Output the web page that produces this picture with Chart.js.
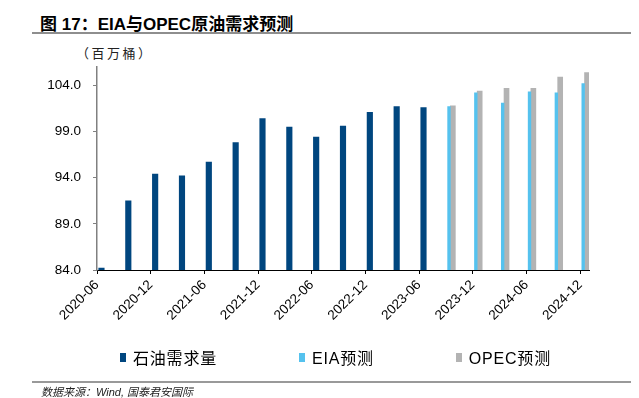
<!DOCTYPE html>
<html>
<head>
<meta charset="utf-8">
<script src="https://cdn.jsdelivr.net/npm/chart.js@4"></script>
<style>
  html, body { margin: 0; padding: 0; background: #fff; }
  body { width: 639px; height: 398px; position: relative; overflow: hidden;
         font-family: "Liberation Sans", "Noto Sans CJK SC", sans-serif; color: #000; }
  #chart { position: absolute; left: 0; top: 0; }
  .title { position: absolute; left: 40px; top: 10px; font-size: 17px; font-weight: bold; white-space: nowrap; }
  .rule { position: absolute; left: 32px; width: 599px; height: 2px; background: #8e8e8e; }
  .unit { position: absolute; left: 76px; top: 43px; font-size: 13px; letter-spacing: 2.5px; color: #222;
          font-family: "Noto Sans CJK SC", sans-serif; }
  #legend { position: absolute; left: 120px; top: 345px; display: flex; gap: 82px; font-size: 16px;
            letter-spacing: 0.8px; white-space: nowrap; }
  #legend .item { display: flex; align-items: center; }
  #legend .box { width: 6px; height: 9px; margin-right: 7px; }
  .source { position: absolute; left: 41px; top: 383px; font-size: 11px; font-style: italic; color: #222; white-space: nowrap; }
</style>
</head>
<body>
<div class="title">图 17：EIA与OPEC原油需求预测</div>
<div class="rule" style="top:32px"></div>
<div class="unit">（百万桶）</div>
<canvas id="chart" width="639" height="398"></canvas>
<div id="legend"></div>
<div class="rule" style="top:381px;height:1.5px;background:#999"></div>
<div class="source">数据来源：Wind, 国泰君安国际</div>

<script>
/* =========================
   DATA
========================= */
const quarters = [
  "2020-06", "2020-09", "2020-12", "2021-03", "2021-06", "2021-09", "2021-12",
  "2022-03", "2022-06", "2022-09", "2022-12", "2023-03", "2023-06",
  "2023-09", "2023-12", "2024-03", "2024-06", "2024-09", "2024-12",
];

// 石油需求量 (actual)
const demand = [
  84.2, 91.5, 94.4, 94.2, 95.7, 97.8, 100.4,
  99.5, 98.4, 99.6, 101.1, 101.7, 101.6,
  null, null, null, null, null, null,
];

// EIA预测
const eiaForecast = [
  null, null, null, null, null, null, null,
  null, null, null, null, null, null,
  101.7, 103.2, 102.1, 103.3, 103.2, 104.2,
];

// OPEC预测
const opecForecast = [
  null, null, null, null, null, null, null,
  null, null, null, null, null, null,
  101.8, 103.4, 103.7, 103.7, 104.9, 105.4,
];

const xTickLabels = [
  "2020-06", "2020-12", "2021-06", "2021-12", "2022-06",
  "2022-12", "2023-06", "2023-12", "2024-06", "2024-12",
];

const yTickValues = [84, 89, 94, 99, 104];

/* =========================
   HELPERS
========================= */
// months since the first tick label (date axis, one slot per month)
function monthIndex(label) {
  const [y, m] = label.split("-").map(Number);
  const [y0, m0] = xTickLabels[0].split("-").map(Number);
  return (y - y0) * 12 + (m - m0);
}

function toPoints(values) {
  return quarters.map((q, i) => ({ x: monthIndex(q) + 0.5, y: values[i] }));
}

const FONT = "'Liberation Sans', Arial, sans-serif";

/* =========================
   CHART
========================= */
const chart = new Chart(document.getElementById("chart"), {
  type: "bar",
  data: {
    datasets: [
      {
        label: "石油需求量",
        data: toPoints(demand),
        backgroundColor: "#00467f",
        barThickness: 5.5,
      },
      {
        label: "EIA预测",
        data: toPoints(eiaForecast),
        backgroundColor: "#55c2ee",
        barThickness: 2.7,
      },
      {
        label: "OPEC预测",
        data: toPoints(opecForecast),
        backgroundColor: "#b3b3b3",
        barThickness: 5,
      },
    ],
  },
  options: {
    responsive: false,
    animation: false,
    skipNull: true,
    layout: { padding: { left: 44, right: 50, top: 67, bottom: 0 } },
    plugins: {
      legend: { display: false },
      tooltip: { enabled: false },
    },
    scales: {
      x: {
        type: "linear",
        position: "bottom",
        offset: false,
        min: monthIndex(xTickLabels[0]),
        max: monthIndex(xTickLabels[xTickLabels.length - 1]) + 1,
        afterBuildTicks: (axis) => {
          axis.ticks = xTickLabels.map((l) => ({ value: monthIndex(l) }));
        },
        afterFit: (axis) => { axis.height = 128; },
        ticks: {
          autoSkip: false,
          minRotation: 45,
          maxRotation: 45,
          padding: 3,
          color: "#000",
          font: { family: FONT, size: 13.5 },
          callback: (v) => xTickLabels.find((l) => monthIndex(l) === v) || "",
        },
        grid: { drawOnChartArea: false, offset: false, tickLength: 4, color: "#000" },
        border: { color: "#000", width: 1 },
      },
      y: {
        min: 84,
        max: 106,
        afterBuildTicks: (axis) => {
          axis.ticks = yTickValues.map((v) => ({ value: v }));
        },
        afterFit: (axis) => { axis.width = 53; },
        ticks: {
          padding: 12,
          color: "#000",
          font: { family: FONT, size: 13.5 },
          callback: (v) => Number(v).toFixed(1),
        },
        grid: { drawOnChartArea: false, tickLength: 4, color: "#808080" },
        border: { color: "#808080", width: 1.5 },
      },
    },
  },
});

/* =========================
   LEGEND (built from the chart's datasets)
========================= */
const legendEl = document.getElementById("legend");
chart.data.datasets.forEach((ds) => {
  const item = document.createElement("div");
  item.className = "item";
  const box = document.createElement("span");
  box.className = "box";
  box.style.background = ds.backgroundColor;
  const txt = document.createElement("span");
  txt.textContent = ds.label;
  item.appendChild(box);
  item.appendChild(txt);
  legendEl.appendChild(item);
});
</script>
</body>
</html>
